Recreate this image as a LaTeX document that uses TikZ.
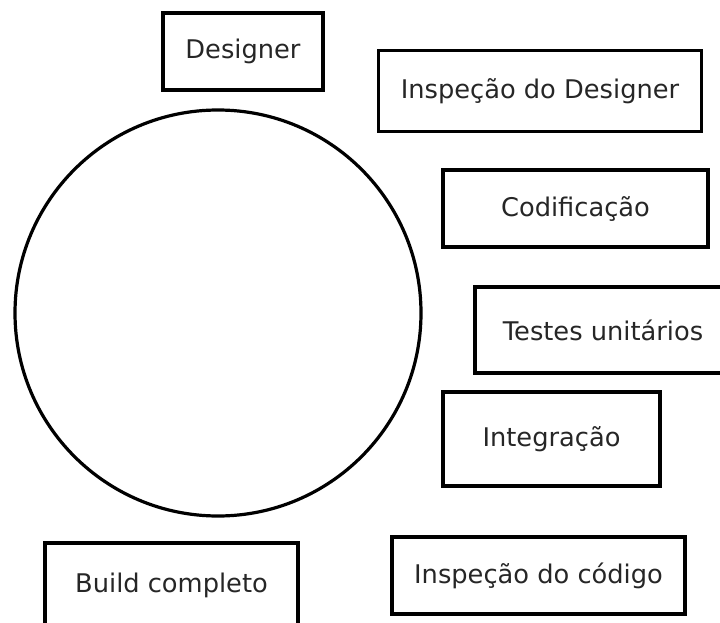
\documentclass[tikz,border=0pt]{standalone}
\usepackage{fontspec}
\setmainfont{DejaVu Sans}
\begin{document}
\begin{tikzpicture}[x=1pt,y=-1pt,
  stage/.style={draw=black, line width=3.2pt, rectangle, inner sep=0pt,
    font=\fontsize{25.7}{30}\selectfont, text=black!85},
  ring/.style={draw=black, line width=3.2pt, circle, inner sep=0pt}]
\useasboundingbox (0,0) rectangle (720,623);
\clip (0,0) rectangle (720,623);
\node[ring, minimum size=406pt] (cycle) at (218,313) {};
\node[stage, minimum width=160pt, minimum height=77pt] (designer) at (243,51.5) {Designer};
\node[stage, minimum width=323pt, minimum height=81pt] (inspdes) at (540,91) {Inspeção do Designer};
\node[stage, minimum width=265pt, minimum height=77pt] (codif) at (575.5,208.5) {Codificação};
\node[stage, minimum width=256pt, minimum height=86pt] (testes) at (603,330) {Testes unitários};
\node[stage, minimum width=217pt, minimum height=94pt] (integ) at (551.5,439) {Integração};
\node[stage, minimum width=293pt, minimum height=77pt] (inspcod) at (538.5,575.5) {Inspeção do código};
\node[stage, minimum width=253pt, minimum height=84pt] (build) at (171.5,585) {Build completo};
\end{tikzpicture}
\end{document}
